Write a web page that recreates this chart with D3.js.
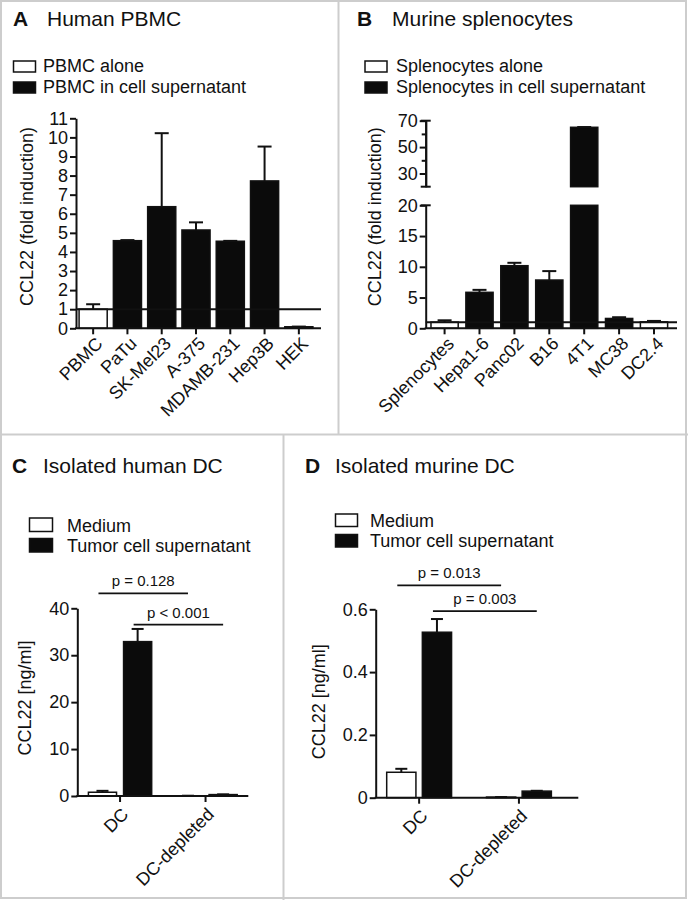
<!DOCTYPE html>
<html><head><meta charset="utf-8">
<script src="https://cdn.jsdelivr.net/npm/d3@7"></script>
<style>
body{margin:0;background:#fff;}
svg{display:block;font-family:"Liberation Sans",Arial,sans-serif;}
</style></head><body>
<svg id="chart" width="688" height="900"></svg>
<script>
// ---------- DATA ----------
// Panel A
const catsA = ["PBMC","PaTu","SK-Mel23","A-375","MDAMB-231","Hep3B","HEK"];
const valsA = [1.0, 4.59, 6.37, 5.15, 4.56, 7.72, 0.08];
const errA  = [1.26, 4.62, 10.22, 5.55, 4.58, 9.52, 0.09];
const typeA = ["alone","sup","sup","sup","sup","sup","sup"];
const legendA = ["PBMC alone","PBMC in cell supernatant"];
const ticksA = [0,1,2,3,4,5,6,7,8,9,10,11];
const refA = 1;
// Panel B
const catsB = ["Splenocytes","Hepa1-6","Panc02","B16","4T1","MC38","DC2.4"];
const valsB = [1.0, 5.85, 10.18, 7.85, 65.0, 1.6, 1.05];
const errB  = [1.3, 6.25, 10.65, 9.3, 65.2, 1.8, 1.2];
const typeB = ["alone","sup","sup","sup","sup","sup","alone"];
const legendB = ["Splenocytes alone","Splenocytes in cell supernatant"];
const ticksBLow = [0,5,10,15,20];
const ticksBHigh = [30,50,70];
const minorBHigh = [40,60];
const breakB = 20;
const topB = 70;
const refB = 1;
// Panel C
const groupsC = ["DC","DC-depleted"];
const seriesC = ["Medium","Tumor cell supernatant"];
const mediumC = [0.8, 0.05];
const mediumErrC = [1.1, 0.06];
const tumorC = [32.9, 0.3];
const tumorErrC = [35.6, 0.35];
const ticksC = [0,10,20,30,40];
const pLabelsC = ["p = 0.128","p < 0.001"];
const pFromC = [["DC","Medium"],["DC","Tumor cell supernatant"]];
const pToC = [["DC-depleted","Medium"],["DC-depleted","Tumor cell supernatant"]];
const pLevelC = [43.2, 36.5];
// Panel D
const groupsD = ["DC","DC-depleted"];
const seriesD = ["Medium","Tumor cell supernatant"];
const mediumD = [0.081, 0.002];
const mediumErrD = [0.092, 0.002];
const tumorD = [0.527, 0.021];
const tumorErrD = [0.569, 0.022];
const ticksD = [0,0.2,0.4,0.6];
const pLabelsD = ["p = 0.013","p = 0.003"];
const pFromD = [["DC","Medium"],["DC","Tumor cell supernatant"]];
const pToD = [["DC-depleted","Medium"],["DC-depleted","Tumor cell supernatant"]];
const pLevelD = [0.676, 0.594];
const panelTitles = [["A","Human PBMC"],["B","Murine splenocytes"],["C","Isolated human DC"],["D","Isolated murine DC"]];

// ---------- DRAW ----------
const INK = "#111111";
const svg = d3.select("#chart");
const fillOf = d3.scaleOrdinal().domain(["alone","sup"]).range(["#ffffff","#0b0b0b"]);
const fillSeries = d3.scaleOrdinal().domain(["Medium","Tumor cell supernatant"]).range(["#ffffff","#0b0b0b"]);

// panel borders
const bc = "#cdcdcd";
svg.append("rect").attr("x",1).attr("y",1).attr("width",685).attr("height",897)
  .attr("fill","none").attr("stroke",bc).attr("stroke-width",2);
svg.append("line").attr("x1",338.5).attr("x2",338.5).attr("y1",0).attr("y2",434).attr("stroke",bc).attr("stroke-width",2);
svg.append("line").attr("x1",0).attr("x2",688).attr("y1",434.5).attr("y2",434.5).attr("stroke",bc).attr("stroke-width",2);
svg.append("line").attr("x1",283.5).attr("x2",283.5).attr("y1",434).attr("y2",900).attr("stroke",bc).attr("stroke-width",2);

function styleAxis(g, fs){
  g.attr("font-family",null).attr("font-size",fs||18);
  g.selectAll("path,line").attr("stroke",INK).attr("stroke-width",2);
  g.selectAll("text").attr("fill",INK);
}
function title(i, xL, xT, y){
  svg.append("text").attr("x",xL).attr("y",y).attr("font-size",21).attr("font-weight","bold").attr("fill",INK).text(panelTitles[i][0]);
  svg.append("text").attr("x",xT).attr("y",y).attr("font-size",21).attr("fill",INK).text(panelTitles[i][1]);
}
function legend(labels, fills, bx, bw, bh, tx, baselines, fs){
  labels.forEach((l,i)=>{
    svg.append("rect").attr("x",bx).attr("y",baselines[i]-bh).attr("width",bw).attr("height",bh)
      .attr("fill",fills[i]).attr("stroke",INK).attr("stroke-width",1.5);
    svg.append("text").attr("x",tx).attr("y",baselines[i]).attr("font-size",fs).attr("fill",INK).text(l);
  });
}
function yTitle(txt, x, y){
  svg.append("text").attr("transform",`translate(${x},${y}) rotate(-90)`).attr("text-anchor","middle")
    .attr("font-size",18).attr("fill",INK).text(txt);
}
function errBar(g, cx, y0, y1, half){
  g.append("line").attr("x1",cx).attr("x2",cx).attr("y1",y0).attr("y2",y1).attr("stroke",INK).attr("stroke-width",2);
  g.append("line").attr("x1",cx-half).attr("x2",cx+half).attr("y1",y1).attr("y2",y1).attr("stroke",INK).attr("stroke-width",2);
}
function rotLabels(g, dx, dy, fs){
  g.selectAll(".tick text").attr("x",0).attr("y",0).attr("dy","0.35em").attr("text-anchor","end")
    .attr("font-size",fs).attr("transform",`translate(${dx},${dy}) rotate(-45)`);
}

// ===== Panel A =====
title(0, 13, 47, 26);
legend(legendA, [fillOf("alone"),fillOf("sup")], 13.5, 22, 11, 43, [72, 93], 18);
{
  const y = d3.scaleLinear().domain([0,11]).range([328.3,118.3]);
  const x = d3.scaleBand().domain(catsA).range([76,316]).paddingInner(0.18).paddingOuter(0.09);
  const g = svg.append("g");
  const bw = x.bandwidth();
  catsA.forEach((c,i)=>{
    errBar(g, x(c)+bw/2, y(valsA[i]), y(errA[i]), 7);
  });
  g.selectAll("rect.bar").data(catsA).join("rect").attr("class","bar")
    .attr("x",d=>x(d)).attr("width",bw)
    .attr("y",(d,i)=>y(valsA[i])).attr("height",(d,i)=>y(0)-y(valsA[i]))
    .attr("fill",(d,i)=>fillOf(typeA[i])).attr("stroke",INK).attr("stroke-width",1.5);
  // reference line
  g.append("line").attr("x1",76).attr("x2",321).attr("y1",y(refA)).attr("y2",y(refA)).attr("stroke",INK).attr("stroke-width",2);
  const ya = svg.append("g").attr("transform","translate(76,0)")
    .call(d3.axisLeft(y).tickValues(ticksA).tickSize(6).tickSizeOuter(0).tickPadding(2).tickFormat(d3.format("d")));
  styleAxis(ya);
  const xa = svg.append("g").attr("transform",`translate(0,${y(0)})`)
    .call(d3.axisBottom(x).tickSize(6).tickSizeOuter(0));
  styleAxis(xa);
  xa.select(".domain").remove();
  xa.append("line").attr("x1",75).attr("x2",321).attr("stroke",INK).attr("stroke-width",2);
  rotLabels(xa, 6, 12, 18);
  yTitle("CCL22 (fold induction)", 32.5, 216.5);
}

// ===== Panel B =====
title(1, 357, 392, 26);
legend(legendB, [fillOf("alone"),fillOf("sup")], 365, 22, 11, 396, [72, 93], 18);
{
  const ax = 425.7;
  const yL = d3.scaleLinear().domain([0,breakB]).range([328.3,205.3]);
  const yU = d3.scaleLinear().domain([breakB,topB]).range([186.7,120.7]);
  const x = d3.scaleBand().domain(catsB).range([ax,677]).paddingInner(0.22).paddingOuter(0.21).align(0.36);
  const bw = x.bandwidth();
  const g = svg.append("g");
  catsB.forEach((c,i)=>{
    const v = valsB[i], e = errB[i], x0 = x(c), cx = x0 + bw/2;
    if (v > breakB){
      g.append("rect").attr("x",x0).attr("width",bw).attr("y",yL(breakB)).attr("height",yL(0)-yL(breakB))
        .attr("fill",fillOf(typeB[i])).attr("stroke",INK).attr("stroke-width",1.5);
      errBar(g, cx, yU(v), yU(e), 7);
      g.append("rect").attr("x",x0).attr("width",bw).attr("y",yU(v)).attr("height",yU(breakB)-yU(v))
        .attr("fill",fillOf(typeB[i])).attr("stroke",INK).attr("stroke-width",1.5);
    } else {
      errBar(g, cx, yL(v), yL(e), 7);
      g.append("rect").attr("x",x0).attr("width",bw).attr("y",yL(v)).attr("height",yL(0)-yL(v))
        .attr("fill",fillOf(typeB[i])).attr("stroke",INK).attr("stroke-width",1.5);
    }
  });
  g.append("line").attr("x1",ax).attr("x2",677).attr("y1",yL(refB)).attr("y2",yL(refB)).attr("stroke",INK).attr("stroke-width",2);
  const yaL = svg.append("g").attr("transform",`translate(${ax},0)`)
    .call(d3.axisLeft(yL).tickValues(ticksBLow).tickSize(6).tickSizeOuter(0).tickPadding(2));
  styleAxis(yaL);
  const yaU = svg.append("g").attr("transform",`translate(${ax},0)`)
    .call(d3.axisLeft(yU).tickValues(ticksBHigh).tickSize(6).tickSizeOuter(0).tickPadding(2));
  styleAxis(yaU);
  const yaM = svg.append("g").attr("transform",`translate(${ax},0)`)
    .call(d3.axisLeft(yU).tickValues(minorBHigh).tickSize(4).tickSizeOuter(0).tickFormat(""));
  styleAxis(yaM);
  // segment end caps
  [yL(breakB), yU(breakB), yU(topB)].forEach(yy=>{
    svg.append("line").attr("x1",ax-5).attr("x2",ax+5).attr("y1",yy).attr("y2",yy).attr("stroke",INK).attr("stroke-width",2);
  });
  const xa = svg.append("g").attr("transform",`translate(0,${yL(0)})`)
    .call(d3.axisBottom(x).tickSize(6).tickSizeOuter(0));
  styleAxis(xa);
  xa.select(".domain").remove();
  xa.append("line").attr("x1",ax-1).attr("x2",677).attr("stroke",INK).attr("stroke-width",2);
  rotLabels(xa, 6, 12, 18);
  yTitle("CCL22 (fold induction)", 381, 216.7);
}

// ===== grouped panels C / D =====
function grouped(opts){
  const {groups, series, med, medErr, tum, tumErr, y, x0, x1, ticks, fmt, pLabels, pFrom, pTo, pLevel, axX, axEnd} = opts;
  const bw = x1.bandwidth();
  const g = svg.append("g");
  const vals = [med, tum], errs = [medErr, tumErr];
  groups.forEach((gr,gi)=>{
    series.forEach((s,si)=>{
      const cx = x0(gr)+x1(s)+bw/2;
      errBar(g, cx, y(vals[si][gi]), y(errs[si][gi]), 6);
    });
  });
  groups.forEach((gr,gi)=>{
    g.selectAll(null).data(series).join("rect")
      .attr("x",s=>x0(gr)+x1(s)).attr("width",bw)
      .attr("y",(s,si)=>y(vals[si][gi])).attr("height",(s,si)=>y(0)-y(vals[si][gi]))
      .attr("fill",s=>fillSeries(s)).attr("stroke",INK).attr("stroke-width",1.5);
  });
  const ya = svg.append("g").attr("transform",`translate(${axX},0)`)
    .call(d3.axisLeft(y).tickValues(ticks).tickSize(6).tickSizeOuter(0).tickPadding(2).tickFormat(fmt));
  styleAxis(ya);
  const xa = svg.append("g").attr("transform",`translate(0,${y(0)})`)
    .call(d3.axisBottom(x0).tickSize(6).tickSizeOuter(0));
  styleAxis(xa);
  xa.select(".domain").remove();
  xa.append("line").attr("x1",axX-1).attr("x2",axEnd).attr("stroke",INK).attr("stroke-width",2);
  rotLabels(xa, 5, 15, 18);
  // significance lines
  pLabels.forEach((lab,i)=>{
    const xa1 = x0(pFrom[i][0])+x1(pFrom[i][1])+bw/2 - 4;
    const xa2 = x0(pTo[i][0])+x1(pTo[i][1])+bw/2;
    const yy = y(pLevel[i]);
    svg.append("line").attr("x1",xa1).attr("x2",xa2).attr("y1",yy).attr("y2",yy).attr("stroke",INK).attr("stroke-width",1.8);
    svg.append("text").attr("x",(xa1+xa2)/2).attr("y",yy-7).attr("text-anchor","middle")
      .attr("font-size",15).attr("fill",INK).text(lab);
  });
}

// Panel C
title(2, 12, 43, 473);
legend(seriesC, seriesC.map(s=>fillSeries(s)), 29.5, 23, 13.5, 67, [531.5, 552], 18);
{
  const y = d3.scaleLinear().domain([0,40]).range([796,608.3]);
  const x0 = d3.scaleBand().domain(groupsC).range([77.3,248.3]).paddingInner(0.26).paddingOuter(0.13);
  const x1 = d3.scaleBand().domain(seriesC).range([0,x0.bandwidth()]).paddingInner(0.2);
  grouped({groups:groupsC, series:seriesC, med:mediumC, medErr:mediumErrC, tum:tumorC, tumErr:tumorErrC,
    y, x0, x1, ticks:ticksC, fmt:d3.format("d"), pLabels:pLabelsC, pFrom:pFromC, pTo:pToC, pLevel:pLevelC,
    axX:77.3, axEnd:248.3});
  yTitle("CCL22 [ng/ml]", 31, 698);
}
// Panel D
title(3, 305, 335, 473);
legend(seriesD, seriesD.map(s=>fillSeries(s)), 335.5, 22, 12.5, 370, [526.5, 547], 18);
{
  const y = d3.scaleLinear().domain([0,0.6]).range([797.7,609.3]);
  const x0 = d3.scaleBand().domain(groupsD).range([375.7,578.3]).paddingInner(0.35).paddingOuter(0.19).align(0.29);
  const x1 = d3.scaleBand().domain(seriesD).range([0,x0.bandwidth()]).paddingInner(0.18);
  grouped({groups:groupsD, series:seriesD, med:mediumD, medErr:mediumErrD, tum:tumorD, tumErr:tumorErrD,
    y, x0, x1, ticks:ticksD, fmt:d=>d===0?"0":d3.format(".1f")(d), pLabels:pLabelsD, pFrom:pFromD, pTo:pToD, pLevel:pLevelD,
    axX:375.7, axEnd:578.3});
  yTitle("CCL22 [ng/ml]", 325, 701.7);
}
</script>
</body></html>
